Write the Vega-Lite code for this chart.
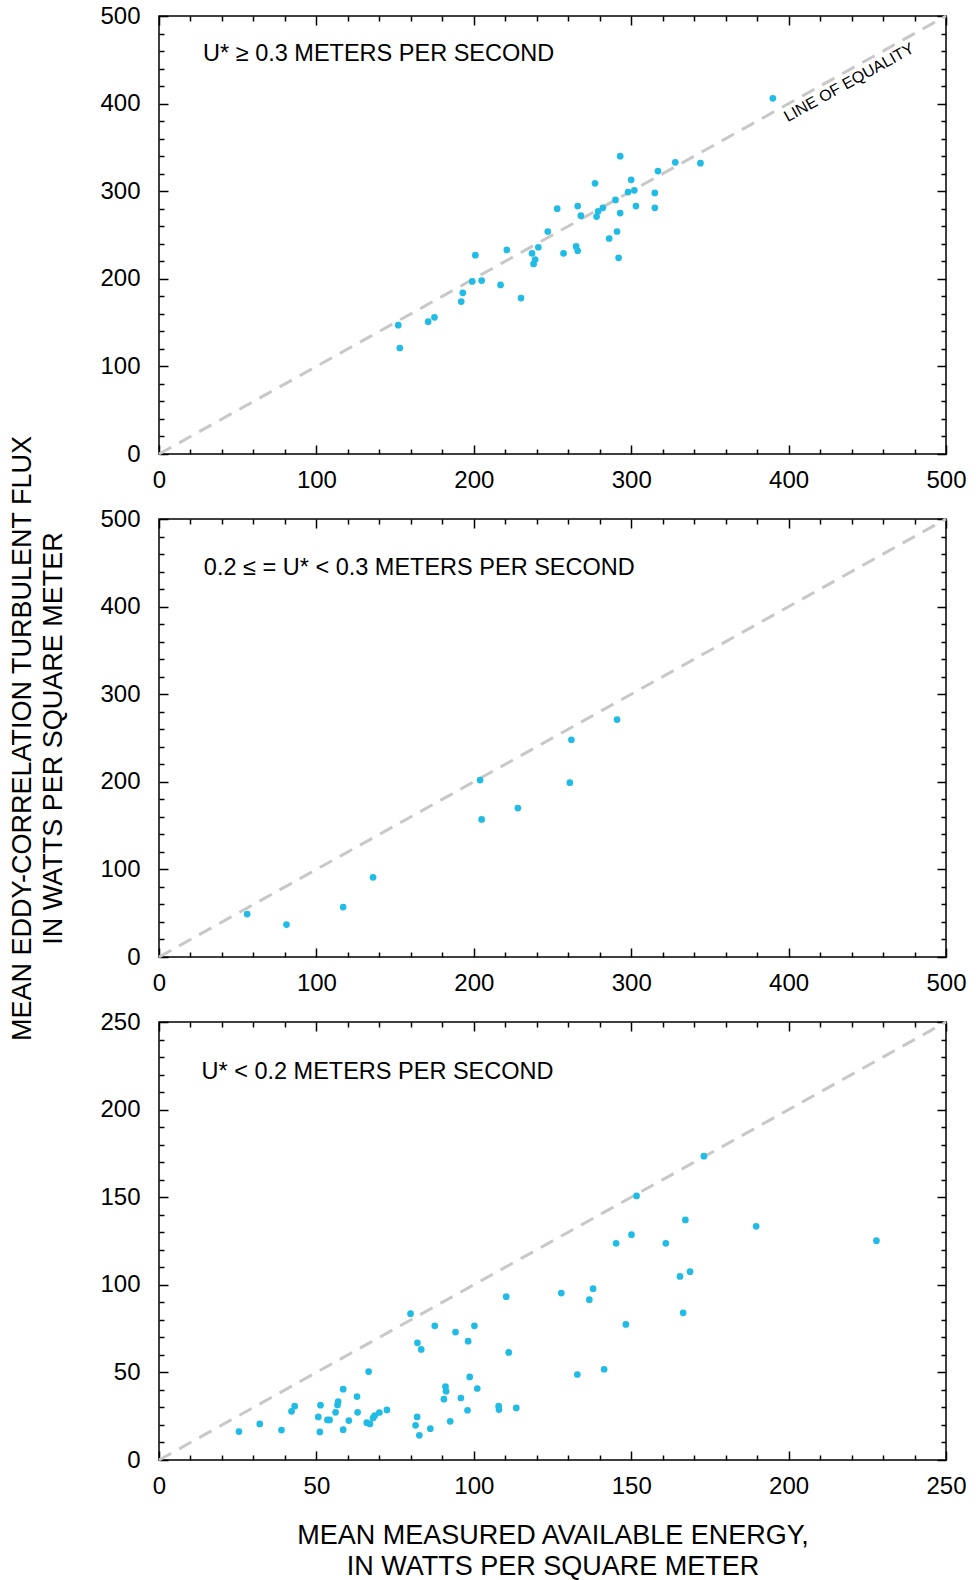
{
  "$schema": "https://vega.github.io/schema/vega-lite/v6.json",
  "padding": {"left": 8, "top": 3, "right": 10, "bottom": 3},
  "background": "white",
  "spacing": 65,
  "bounds": "flush",
  "config": {
    "font": "Liberation Sans",
    "view": {"stroke": "black", "strokeWidth": 1.5},
    "axis": {
      "domain": false, "grid": false,
      "labelFont": "Liberation Sans", "labelFontSize": 24, "labelColor": "black",
      "tickColor": "black", "tickWidth": 1.5,
      "titleFont": "Liberation Sans", "titleFontSize": 27, "titleFontWeight": "normal", "titleColor": "black",
      "titleLineHeight": 31,
      "labelFlush": false, "labelOverlap": false, "labelBound": false
    }
  },
  "datasets": {
    "p1": [
      {"x":390,"y":406},{"x":293,"y":340},{"x":328,"y":333},{"x":344,"y":332},{"x":317,"y":323},{"x":277,"y":309},{"x":300,"y":313},{"x":298,"y":299},{"x":302,"y":301},{"x":315,"y":298},{"x":290,"y":290},{"x":253,"y":280},{"x":266,"y":283},{"x":282,"y":281},{"x":279,"y":277},{"x":278,"y":271},{"x":268,"y":272},{"x":293,"y":275},{"x":303,"y":283},{"x":315,"y":281},{"x":247,"y":254},{"x":291,"y":254},{"x":286,"y":246},{"x":241,"y":236},{"x":237,"y":229},{"x":265,"y":237},{"x":266,"y":232},{"x":257,"y":229},{"x":221,"y":233},{"x":201,"y":227},{"x":239,"y":222},{"x":238,"y":217},{"x":292,"y":224},{"x":205,"y":198},{"x":199,"y":197},{"x":217,"y":193},{"x":193,"y":184},{"x":192,"y":174},{"x":230,"y":178},{"x":175,"y":156},{"x":171,"y":151},{"x":152,"y":147},{"x":153,"y":121}
    ],
    "p2": [
      {"x":291,"y":271},{"x":262,"y":248},{"x":204,"y":202},{"x":261,"y":199},{"x":228,"y":170},{"x":205,"y":157},{"x":136,"y":91},{"x":117,"y":57},{"x":56,"y":49},{"x":81,"y":37}
    ],
    "p3": [
      {"x":173.1,"y":173.4},{"x":151.7,"y":150.7},{"x":167.2,"y":137},{"x":189.7,"y":133.4},{"x":150.1,"y":128.6},{"x":145.2,"y":123.7},{"x":161,"y":123.7},{"x":227.9,"y":125.2},{"x":168.7,"y":107.5},{"x":165.5,"y":104.8},{"x":137.9,"y":97.8},{"x":127.8,"y":95.3},{"x":136.7,"y":91.5},{"x":110.3,"y":93.2},{"x":166.5,"y":84},{"x":148.3,"y":77.4},{"x":79.9,"y":83.5},{"x":87.6,"y":76.6},{"x":100.2,"y":76.6},{"x":94.2,"y":73},{"x":98.2,"y":67.8},{"x":82.1,"y":66.9},{"x":83.3,"y":63.1},{"x":111.1,"y":61.4},{"x":141.4,"y":51.8},{"x":132.9,"y":48.8},{"x":66.6,"y":50.5},{"x":98.7,"y":47.4},{"x":91,"y":41.9},{"x":91.2,"y":39.3},{"x":101.1,"y":40.8},{"x":58.5,"y":40.4},{"x":62.9,"y":36.2},{"x":95.9,"y":35.4},{"x":90.5,"y":34.7},{"x":56.9,"y":33.3},{"x":56.7,"y":31.4},{"x":51.3,"y":31.3},{"x":43.1,"y":30.7},{"x":42.1,"y":27.8},{"x":50.6,"y":24.6},{"x":53.5,"y":22.9},{"x":54.2,"y":22.9},{"x":56.1,"y":27.2},{"x":60.3,"y":22.5},{"x":63.1,"y":27.2},{"x":58.5,"y":17.3},{"x":51.1,"y":16},{"x":38.9,"y":17.1},{"x":32,"y":20.6},{"x":25.4,"y":16.2},{"x":66,"y":21.3},{"x":67,"y":20.6},{"x":68,"y":24},{"x":68.5,"y":25.3},{"x":70,"y":27.1},{"x":72.4,"y":28.6},{"x":82,"y":24.6},{"x":81.5,"y":19.8},{"x":82.7,"y":14.1},{"x":86.2,"y":17.9},{"x":92.5,"y":22.1},{"x":98,"y":28.4},{"x":107.9,"y":30.7},{"x":108,"y":28.8},{"x":113.5,"y":29.7}
    ]
  },
  "vconcat": [
    {
      "width": 787, "height": 438,
      "resolve": {"axis": {"x": "independent", "y": "independent"}},
      "layer": [
        {
          "data": {"values": [{"x":0,"y":0},{"x":500,"y":500}]},
          "mark": {"type": "line", "color": "#c8c8c8", "strokeWidth": 3, "strokeDash": [14, 9]},
          "encoding": {
            "x": {"field": "x", "type": "quantitative", "scale": {"domain": [0, 500], "nice": false},
              "axis": {"orient": "top", "title": null, "labels": false, "values": [0,20,40,60,80,100,120,140,160,180,200,220,240,260,280,300,320,340,360,380,400,420,440,460,480,500],
                "tickSize": {"condition": {"test": "datum.value % 100 === 0", "value": -9}, "value": -5}}},
            "y": {"field": "y", "type": "quantitative", "scale": {"domain": [0, 500], "nice": false},
              "axis": {"orient": "right", "title": null, "labels": false, "values": [0,20,40,60,80,100,120,140,160,180,200,220,240,260,280,300,320,340,360,380,400,420,440,460,480,500],
                "tickSize": {"condition": {"test": "datum.value % 100 === 0", "value": -9}, "value": -5}}}
          }
        },
        {
          "data": {"name": "p1"},
          "mark": {"type": "circle", "color": "#20bce6", "opacity": 1, "size": 45},
          "encoding": {
            "x": {"field": "x", "type": "quantitative", "scale": {"domain": [0, 500], "nice": false},
              "axis": {"orient": "bottom", "title": null, "values": [0,20,40,60,80,100,120,140,160,180,200,220,240,260,280,300,320,340,360,380,400,420,440,460,480,500],
                "labelExpr": "datum.value % 100 === 0 ? datum.label : ''", "labelPadding": 23,
                "tickSize": {"condition": {"test": "datum.value % 100 === 0", "value": -9}, "value": -5}}},
            "y": {"field": "y", "type": "quantitative", "scale": {"domain": [0, 500], "nice": false},
              "axis": {"orient": "left", "title": null, "values": [0,20,40,60,80,100,120,140,160,180,200,220,240,260,280,300,320,340,360,380,400,420,440,460,480,500],
                "labelExpr": "datum.value % 100 === 0 ? datum.label : ''", "labelPadding": 28,
                "tickSize": {"condition": {"test": "datum.value % 100 === 0", "value": -9}, "value": -5}}}
          }
        },
        {
          "data": {"values": [{"x": 28, "y": 456.6, "label": "U* ≥ 0.3 METERS PER SECOND"}]},
          "mark": {"type": "text", "align": "left", "baseline": "middle", "fontSize": 23.5, "color": "black"},
          "encoding": {
            "x": {"field": "x", "type": "quantitative", "axis": null},
            "y": {"field": "y", "type": "quantitative", "axis": null},
            "text": {"field": "label"}
          }
        },
        {
          "data": {"values": [{"x": 438.4, "y": 424, "label": "LINE OF EQUALITY"}]},
          "mark": {"type": "text", "align": "center", "baseline": "middle", "fontSize": 16, "angle": 331, "color": "black"},
          "encoding": {
            "x": {"field": "x", "type": "quantitative", "axis": null},
            "y": {"field": "y", "type": "quantitative", "axis": null},
            "text": {"field": "label"}
          }
        }
      ]
    },
    {
      "width": 787, "height": 438,
      "resolve": {"axis": {"x": "independent", "y": "independent"}},
      "layer": [
        {
          "data": {"values": [{"x":0,"y":0},{"x":500,"y":500}]},
          "mark": {"type": "line", "color": "#c8c8c8", "strokeWidth": 3, "strokeDash": [14, 9]},
          "encoding": {
            "x": {"field": "x", "type": "quantitative", "scale": {"domain": [0, 500], "nice": false},
              "axis": {"orient": "top", "title": null, "labels": false, "values": [0,20,40,60,80,100,120,140,160,180,200,220,240,260,280,300,320,340,360,380,400,420,440,460,480,500],
                "tickSize": {"condition": {"test": "datum.value % 100 === 0", "value": -9}, "value": -5}}},
            "y": {"field": "y", "type": "quantitative", "scale": {"domain": [0, 500], "nice": false},
              "axis": {"orient": "right", "title": null, "labels": false, "values": [0,20,40,60,80,100,120,140,160,180,200,220,240,260,280,300,320,340,360,380,400,420,440,460,480,500],
                "tickSize": {"condition": {"test": "datum.value % 100 === 0", "value": -9}, "value": -5}}}
          }
        },
        {
          "data": {"name": "p2"},
          "mark": {"type": "circle", "color": "#20bce6", "opacity": 1, "size": 45},
          "encoding": {
            "x": {"field": "x", "type": "quantitative", "scale": {"domain": [0, 500], "nice": false},
              "axis": {"orient": "bottom", "title": null, "values": [0,20,40,60,80,100,120,140,160,180,200,220,240,260,280,300,320,340,360,380,400,420,440,460,480,500],
                "labelExpr": "datum.value % 100 === 0 ? datum.label : ''", "labelPadding": 23,
                "tickSize": {"condition": {"test": "datum.value % 100 === 0", "value": -9}, "value": -5}}},
            "y": {"field": "y", "type": "quantitative", "scale": {"domain": [0, 500], "nice": false},
              "axis": {"orient": "left", "title": ["MEAN EDDY-CORRELATION TURBULENT FLUX", "IN WATTS PER SQUARE METER"], "titlePadding": 32,
                "values": [0,20,40,60,80,100,120,140,160,180,200,220,240,260,280,300,320,340,360,380,400,420,440,460,480,500],
                "labelExpr": "datum.value % 100 === 0 ? datum.label : ''", "labelPadding": 28,
                "tickSize": {"condition": {"test": "datum.value % 100 === 0", "value": -9}, "value": -5}}}
          }
        },
        {
          "data": {"values": [{"x": 28.5, "y": 444.6, "label": "0.2 ≤ = U* < 0.3 METERS PER SECOND"}]},
          "mark": {"type": "text", "align": "left", "baseline": "middle", "fontSize": 23.5, "color": "black"},
          "encoding": {
            "x": {"field": "x", "type": "quantitative", "axis": null},
            "y": {"field": "y", "type": "quantitative", "axis": null},
            "text": {"field": "label"}
          }
        }
      ]
    },
    {
      "width": 787, "height": 438,
      "resolve": {"axis": {"x": "independent", "y": "independent"}},
      "layer": [
        {
          "data": {"values": [{"x":0,"y":0},{"x":250,"y":250}]},
          "mark": {"type": "line", "color": "#c8c8c8", "strokeWidth": 3, "strokeDash": [14, 9]},
          "encoding": {
            "x": {"field": "x", "type": "quantitative", "scale": {"domain": [0, 250], "nice": false},
              "axis": {"orient": "top", "title": null, "labels": false, "values": [0,10,20,30,40,50,60,70,80,90,100,110,120,130,140,150,160,170,180,190,200,210,220,230,240,250],
                "tickSize": {"condition": {"test": "datum.value % 50 === 0", "value": -9}, "value": -5}}},
            "y": {"field": "y", "type": "quantitative", "scale": {"domain": [0, 250], "nice": false},
              "axis": {"orient": "right", "title": null, "labels": false, "values": [0,10,20,30,40,50,60,70,80,90,100,110,120,130,140,150,160,170,180,190,200,210,220,230,240,250],
                "tickSize": {"condition": {"test": "datum.value % 50 === 0", "value": -9}, "value": -5}}}
          }
        },
        {
          "data": {"name": "p3"},
          "mark": {"type": "circle", "color": "#20bce6", "opacity": 1, "size": 45},
          "encoding": {
            "x": {"field": "x", "type": "quantitative", "scale": {"domain": [0, 250], "nice": false},
              "axis": {"orient": "bottom", "title": ["MEAN MEASURED AVAILABLE ENERGY,", "IN WATTS PER SQUARE METER"], "titlePadding": 20,
                "values": [0,10,20,30,40,50,60,70,80,90,100,110,120,130,140,150,160,170,180,190,200,210,220,230,240,250],
                "labelExpr": "datum.value % 50 === 0 ? datum.label : ''", "labelPadding": 23,
                "tickSize": {"condition": {"test": "datum.value % 50 === 0", "value": -9}, "value": -5}}},
            "y": {"field": "y", "type": "quantitative", "scale": {"domain": [0, 250], "nice": false},
              "axis": {"orient": "left", "title": null, "values": [0,10,20,30,40,50,60,70,80,90,100,110,120,130,140,150,160,170,180,190,200,210,220,230,240,250],
                "labelExpr": "datum.value % 50 === 0 ? datum.label : ''", "labelPadding": 28,
                "tickSize": {"condition": {"test": "datum.value % 50 === 0", "value": -9}, "value": -5}}}
          }
        },
        {
          "data": {"values": [{"x": 13.5, "y": 221.5, "label": "U* < 0.2 METERS PER SECOND"}]},
          "mark": {"type": "text", "align": "left", "baseline": "middle", "fontSize": 23.5, "color": "black"},
          "encoding": {
            "x": {"field": "x", "type": "quantitative", "axis": null},
            "y": {"field": "y", "type": "quantitative", "axis": null},
            "text": {"field": "label"}
          }
        }
      ]
    }
  ]
}
